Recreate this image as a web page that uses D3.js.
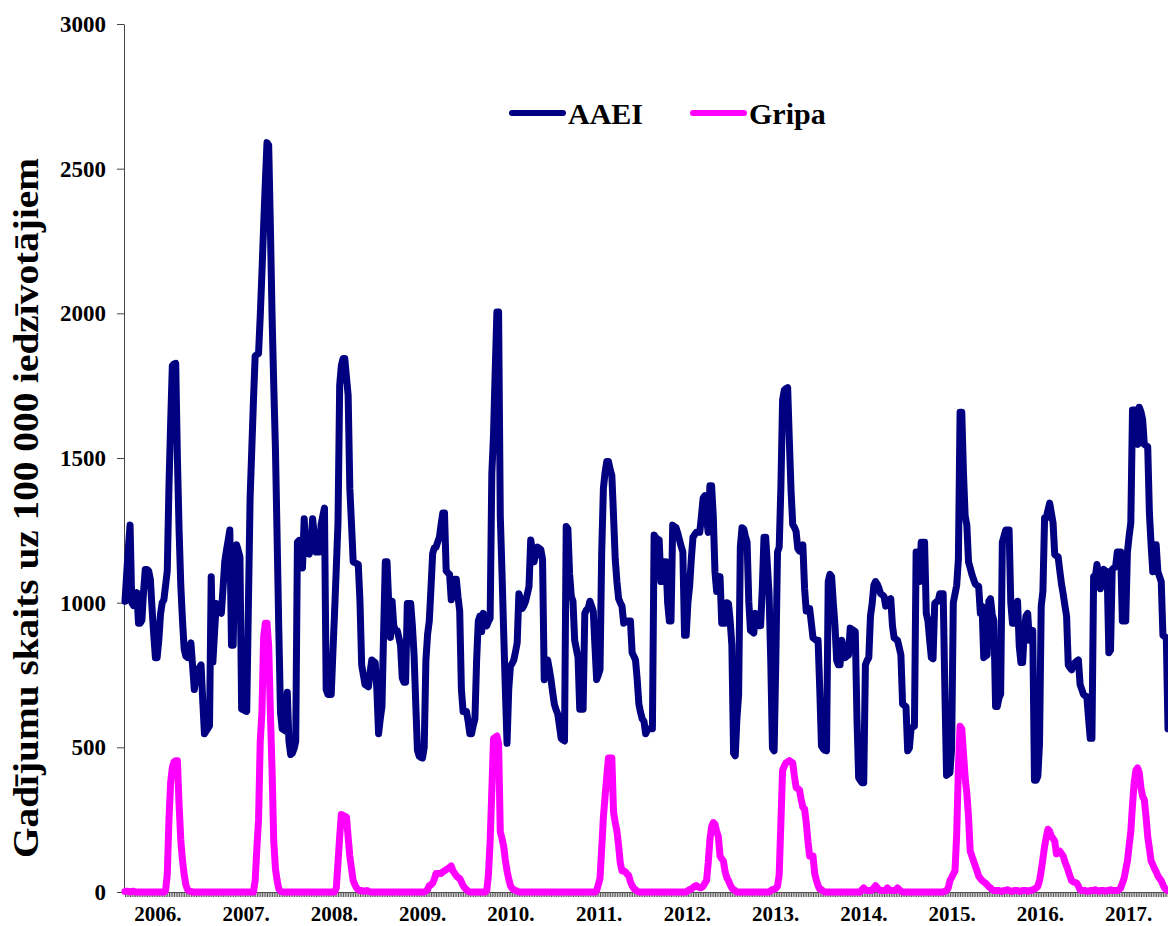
<!DOCTYPE html>
<html>
<head>
<meta charset="utf-8">
<script src="https://cdn.jsdelivr.net/npm/d3@7"></script>
<style>
  body { margin: 0; background: #fff; }
  svg text { font-family: "Liberation Serif", "Times New Roman", Times, serif; font-weight: bold; fill: #000; }
  .line { fill: none; stroke-width: 7; stroke-linejoin: round; stroke-linecap: round; }
  .axis path, .axis line { stroke: #444; }
</style>
</head>
<body>
<div id="chart"></div>
<script>
// weekly values, starting in autumn 2005
const aaei = [
  1005,1100,1190,1268,1000,990,1015,1035,929,929,
  940,1040,1115,1115,1110,1080,980,890,810,810,
  870,960,1000,1010,1060,1110,1400,1620,1819,1825,
  1827,1500,1250,1060,940,840,815,810,835,861,
  780,700,740,768,775,785,660,547,556,565,
  575,1090,795,900,997,985,970,963,1050,1141,
  1180,1215,1251,853,853,1150,1200,1180,1158,632,
  630,626,624,990,1361,1530,1700,1853,1857,1861,
  1990,2140,2300,2450,2590,2581,2300,1990,1750,1530,
  1220,900,620,564,560,556,690,520,475,480,
  495,520,1209,1215,1170,1120,1290,1175,1172,1168,
  1200,1290,1230,1175,1175,1175,1270,1300,1327,700,
  683,683,683,830,971,1120,1276,1751,1820,1844,
  1844,1780,1717,1395,1270,1141,1138,1135,1132,1005,
  785,750,717,713,709,760,802,797,793,700,
  547,598,640,900,1141,1141,1000,880,1005,920,
  904,904,880,853,740,725,725,997,997,997,
  920,820,650,490,470,465,463,500,800,890,
  937,1050,1170,1190,1192,1210,1226,1270,1310,1310,
  1110,1103,1098,1010,1050,1081,1081,1020,971,700,
  624,624,624,590,547,547,575,598,800,937,
  954,900,963,940,920,935,946,1446,1581,1800,
  2005,2005,1300,1107,900,700,514,700,780,790,
  802,830,861,1031,1010,980,990,1005,1030,1056,
  1217,1180,1141,1170,1192,1188,1183,1150,734,770,
  802,770,734,690,649,630,615,575,531,526,
  522,1263,1255,1100,1022,1005,870,840,810,632,
  632,632,963,975,980,1005,988,971,850,734,
  750,768,1175,1395,1450,1488,1488,1460,1440,1300,
  1150,1073,1014,1000,988,929,933,937,937,937,
  827,815,802,734,649,620,598,590,547,560,
  564,564,564,1234,1225,1220,1217,1073,1073,1141,
  1141,1000,937,937,1268,1263,1259,1240,1217,1195,
  1175,887,887,1000,1056,1150,1226,1235,1243,1243,
  1243,1300,1361,1370,1293,1243,1404,1404,1300,1107,
  1039,1065,1090,929,929,929,1000,997,937,853,
  480,471,600,683,1192,1259,1255,1230,1209,1005,
  904,900,895,963,940,920,920,1050,1226,1226,
  1130,1031,800,497,488,800,1175,1192,1400,1700,
  1734,1740,1743,1560,1388,1271,1260,1246,1187,1178,
  1190,1200,1050,971,980,980,930,878,874,870,
  870,700,505,495,490,488,1073,1098,1090,1000,
  920,800,785,785,870,840,810,815,819,912,
  908,904,900,600,395,385,378,378,785,800,
  810,954,997,1060,1073,1064,1050,1031,1027,1022,
  988,1000,1010,1014,920,878,874,870,845,819,
  649,645,641,488,497,564,570,573,1175,1120,
  1073,1209,1209,1209,963,937,870,810,806,997,
  1003,1005,1031,1031,1031,700,403,408,412,497,
  1000,1030,1060,1150,1658,1658,1450,1300,1268,1141,
  1120,1098,1080,1064,1060,1056,963,988,810,815,
  819,1005,1014,960,937,641,641,670,683,1209,
  1230,1251,1251,1251,1000,929,929,980,1005,850,
  793,793,900,954,963,870,890,904,386,386,
  400,514,988,1039,1293,1293,1320,1344,1310,1276,
  1166,1162,1158,1110,1064,1030,990,954,785,775,
  768,780,793,798,802,717,700,683,678,675,
  600,531,531,1090,1090,1132,1090,1048,1080,1115,
  1110,1107,827,836,1115,1120,1124,1175,1175,1175,
  937,937,937,1175,1230,1276,1666,1666,1666,1547,
  1675,1660,1632,1547,1543,1539,1310,1200,1107,1150,
  1200,1107,1090,1073,887,883,878,564
];

const gripa = [
  2,3,2,0,2,3,0,0,0,0,
  0,0,0,0,0,0,0,0,0,0,
  0,0,0,0,5,60,250,380,430,450,
  454,454,300,180,110,60,25,8,3,2,
  0,0,0,0,0,0,0,0,0,0,
  0,0,0,0,0,0,0,0,0,0,
  0,0,0,0,0,0,0,0,0,0,
  0,0,0,0,0,0,0,40,150,250,
  520,620,880,929,929,850,620,420,175,80,
  40,10,3,0,0,0,0,0,0,0,
  0,0,0,0,0,0,0,0,0,0,
  0,0,0,0,0,0,0,0,0,0,
  0,0,0,0,0,14,100,192,268,265,
  262,259,190,124,80,39,25,14,8,5,
  5,3,3,5,3,0,0,0,0,0,
  0,0,0,0,0,0,0,0,0,0,
  0,0,0,0,0,0,0,0,0,0,
  0,0,0,0,0,0,0,0,3,8,
  22,25,31,45,64,64,64,64,70,73,
  77,81,85,90,73,65,56,50,47,35,
  22,14,8,3,0,0,0,0,0,0,
  0,0,0,0,5,60,175,350,530,535,
  539,514,209,185,158,110,73,45,22,12,
  8,5,3,0,0,0,0,0,0,0,
  0,0,0,0,0,0,0,0,0,0,
  0,0,0,0,0,0,0,0,0,0,
  0,0,0,0,0,0,0,0,0,0,
  0,0,0,0,0,0,0,0,0,5,
  25,47,150,259,330,400,463,463,463,276,
  240,210,160,100,73,73,70,62,56,35,
  22,12,8,3,0,0,0,0,0,0,
  0,0,0,0,0,0,0,0,0,0,
  0,0,0,0,0,0,0,0,0,0,
  0,0,0,5,8,10,15,20,22,18,
  15,15,20,30,39,100,180,226,240,234,
  210,192,124,115,107,70,50,39,25,14,
  8,5,0,0,0,0,0,0,0,0,
  0,0,0,0,0,0,0,0,0,0,
  0,0,5,8,10,12,20,60,240,420,
  435,446,450,454,450,446,400,361,357,353,
  320,293,288,240,175,124,124,124,64,40,
  22,10,8,3,0,0,0,0,0,0,
  0,0,0,0,0,0,0,0,0,0,
  0,0,0,0,0,0,8,14,8,5,
  5,5,5,15,22,15,8,5,5,5,
  5,14,8,5,5,5,5,14,8,3,
  0,0,0,0,0,0,0,0,0,0,
  0,0,0,0,0,0,0,0,0,0,
  0,0,0,0,0,3,5,14,39,50,
  62,73,200,429,573,564,480,395,340,260,
  141,124,107,90,73,55,47,40,35,31,
  25,18,14,8,5,5,5,5,3,3,
  5,5,8,5,3,3,5,5,5,3,
  3,5,5,5,3,5,5,8,10,14,
  20,40,73,115,158,190,217,210,192,185,
  175,132,136,141,132,124,105,90,73,55,
  39,35,33,31,20,8,5,5,5,3,
  3,5,5,5,8,5,3,5,5,5,
  3,5,5,8,5,5,5,5,8,14,
  30,47,77,107,160,209,300,378,420,429,
  412,360,330,319,260,192,150,107,95,81,
  70,56,47,39,25,14,8,5
];

const yearLabels = ['2006.', '2007.', '2008.', '2009.', '2010.', '2011.',
  '2012.', '2013.', '2014.', '2015.', '2016.', '2017.'];
const yTicks = [0, 500, 1000, 1500, 2000, 2500, 3000];
const seriesNames = ['AAEI', 'Gripa'];
const seriesColors = ['#000080', '#ff00ff'];
const yTitle = 'Gadījumu skaits uz 100 000 iedzīvotājiem';

const serif = '"Liberation Serif", "Times New Roman", Times, serif';

// layout
const W = 1168, H = 926;
const margin = { top: 24, right: 0, bottom: 34, left: 125 };

const xScale = d3.scaleLinear()
    .domain([0, aaei.length - 1])
    .range([margin.left, W - margin.right]);

const yScale = d3.scaleLinear()
    .domain([0, 3000])
    .range([H - margin.bottom, margin.top]);

const svg = d3.select('#chart').append('svg')
    .attr('width', W)
    .attr('height', H)
    .style('font-family', serif);

// y axis
const yAxis = svg.append('g')
    .attr('class', 'y axis')
    .attr('transform', 'translate(' + (margin.left - 1) + ',0)')
    .call(d3.axisLeft(yScale).tickValues(yTicks).tickSize(7).tickSizeOuter(0).tickPadding(11)
        .tickFormat(d3.format('d')));
yAxis.attr('font-family', null);
yAxis.selectAll('text')
    .style('font-family', serif)
    .style('font-size', '23px');

// x axis: one small tick per week, no labels
const xAxis = svg.append('g')
    .attr('class', 'x axis')
    .attr('transform', 'translate(0,' + yScale(0) + ')')
    .call(d3.axisBottom(xScale).tickValues(d3.range(0, aaei.length)).tickSize(5).tickSizeOuter(0).tickFormat(''));
xAxis.selectAll('line').style('stroke', '#555');

// year labels
svg.append('g').selectAll('text')
    .data(yearLabels)
    .enter().append('text')
    .attr('x', function (d, i) { return xScale(19.5 + i * 52.2); })
    .attr('y', 921)
    .attr('text-anchor', 'middle')
    .style('font-family', serif)
    .style('font-size', '21px')
    .text(function (d) { return d; });

// y axis title
svg.append('text')
    .attr('transform', 'translate(38,' + ((yScale(0) + yScale(3000)) / 2 + 50) + ') rotate(-90)')
    .attr('text-anchor', 'middle')
    .style('font-family', serif)
    .style('font-size', '35px')
    .attr('textLength', 700)
    .attr('lengthAdjust', 'spacingAndGlyphs')
    .text(yTitle);

// the two lines
const line = d3.line()
    .x(function (d, i) { return xScale(i); })
    .y(function (d) { return yScale(d); });

[aaei, gripa].forEach(function (s, k) {
  svg.append('path')
      .datum(s)
      .attr('class', 'line')
      .attr('stroke', seriesColors[k])
      .attr('d', line);
});

// legend
const legend = svg.append('g').attr('transform', 'translate(512,113)');
const item = legend.selectAll('g')
    .data(seriesNames)
    .enter().append('g')
    .attr('transform', function (d, i) { return 'translate(' + (i * 181) + ',0)'; });
item.append('line')
    .attr('x1', 0).attr('x2', 51)
    .attr('stroke', function (d, i) { return seriesColors[i]; })
    .attr('stroke-width', 6)
    .attr('stroke-linecap', 'round');
item.append('text')
    .attr('x', 56)
    .attr('y', 11)
    .style('font-family', serif)
    .style('font-size', '30px')
    .text(function (d) { return d; });
</script>
</body>
</html>
